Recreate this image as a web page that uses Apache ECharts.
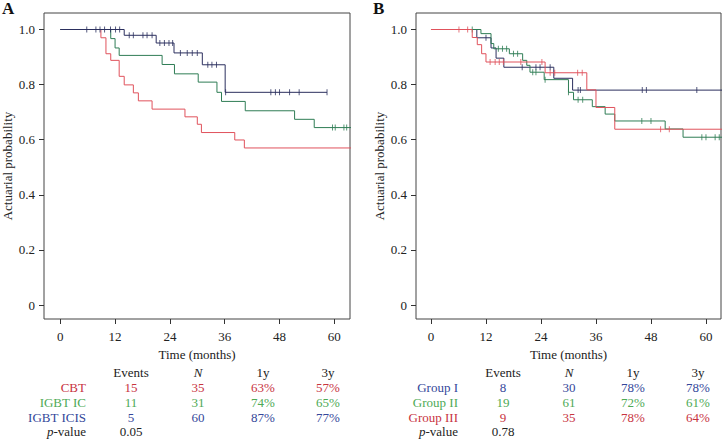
<!DOCTYPE html>
<html>
<head>
<meta charset="utf-8">
<script src="https://cdn.jsdelivr.net/npm/echarts@6/dist/echarts.min.js"></script>
<style>html,body{margin:0;padding:0;background:#fff}#c{width:722px;height:439px}</style>
</head>
<body>
<div id="c"></div>
<script>
// ---------- data ----------
const xTicks = [0, 12, 24, 36, 48, 60];
const yTicks = [0, 0.2, 0.4, 0.6, 0.8, 1.0];

// Panel A
const cbtTimes = [0, 8.9, 10.0, 11.05, 12.9, 14.0, 16.0, 17.1, 20.1, 27.3, 30.0, 30.9, 38.2, 40.3];
const cbtSurv  = [1, 0.970, 0.912, 0.888, 0.830, 0.799, 0.770, 0.741, 0.711, 0.683, 0.656, 0.626, 0.599, 0.570];
const cbtCens  = [];
const cbtEnd   = 65;

const icTimes = [0, 11.05, 12.0, 12.9, 22.3, 25.0, 30.2, 34.3, 35.3, 40.5, 51.3, 55.6];
const icSurv  = [1, 0.967, 0.933, 0.906, 0.873, 0.839, 0.809, 0.772, 0.739, 0.705, 0.674, 0.644];
const icCens  = [59.6, 60.2, 62.1, 62.7];
const icEnd   = 65;

const icisTimes = [0, 14.0, 21.0, 24.9, 31.1, 36.1];
const icisSurv  = [1, 0.979, 0.951, 0.915, 0.872, 0.772];
const icisCens  = [5.8, 7.8, 8.7, 9.7, 11.0, 12.1, 13.0, 15.1, 16.0, 18.1, 19.0, 20.1, 21.8, 22.8, 23.8, 24.6,
                   26.3, 27.8, 28.9, 30.0, 32.3, 33.2, 34.2, 36.2, 46.1, 47.1, 48.0, 50.2, 52.3, 58.4];
const icisEnd   = 58.4;

// Panel B
const g1Times = [0, 10.0, 13.1, 14.2, 15.9, 26.8, 30.9];
const g1Surv  = [1, 0.970, 0.933, 0.896, 0.863, 0.823, 0.780];
const g1Cens  = [12.0, 19.9, 22.9, 23.8, 26.0, 32.1, 32.6, 46.1, 47.0, 58.0];
const g1End   = 65;

const g2Times = [0, 10.9, 13.1, 13.7, 17.1, 20.0, 20.9, 21.6, 24.7, 30.0, 31.1, 35.2, 38.0, 40.1, 51.1, 55.0];
const g2Surv  = [1, 0.985, 0.949, 0.930, 0.912, 0.888, 0.870, 0.845, 0.818, 0.772, 0.745, 0.720, 0.693, 0.668, 0.639, 0.609];
const g2Cens  = [9.0, 14.7, 15.6, 16.5, 18.0, 18.9, 22.2, 22.9, 24.9, 30.0, 32.1, 33.1, 46.0, 48.0, 59.1, 60.0, 62.0, 62.9];
const g2End   = 65;

const g3Times = [0, 9.0, 10.1, 11.05, 12.0, 24.9, 34.0, 36.0, 40.1];
const g3Surv  = [1, 0.971, 0.945, 0.912, 0.882, 0.843, 0.781, 0.717, 0.638];
const g3Cens  = [6.1, 8.0, 12.9, 14.0, 14.9, 15.8, 19.6, 24.2, 26.0, 27.0, 32.0, 33.0, 50.1, 52.0];
const g3End   = 65;

// Tables
const tableHeader = ['Events', 'N', '1y', '3y'];
const tableALabels = ['CBT', 'IGBT IC', 'IGBT ICIS'];
const tableAEvents = ['15', '11', '5'];
const tableAN      = ['35', '31', '60'];
const tableA1y     = ['63%', '74%', '87%'];
const tableA3y     = ['57%', '65%', '77%'];
const tableAP      = '0.05';

const tableBLabels = ['Group I', 'Group II', 'Group III'];
const tableBEvents = ['8', '19', '9'];
const tableBN      = ['30', '61', '35'];
const tableB1y     = ['78%', '72%', '78%'];
const tableB3y     = ['78%', '61%', '64%'];
const tableBP      = '0.78';

// ---------- styling ----------
const RED = '#e0525c', GREEN = '#2f7d55', NAVY = '#2b2f5e';
const T_RED = '#c8343f', T_GREEN = '#4eaa55', T_BLUE = '#34479a';
const FONT = '"Liberation Serif", "DejaVu Serif", serif';
const TXT = '#222';

function survAt(times, surv, t) {
  let v = surv[0];
  for (let i = 0; i < times.length; i++) if (times[i] <= t) v = surv[i];
  return v;
}
function curve(times, surv, endT, cens, color, gi, z) {
  const pts = times.map((t, i) => [t, surv[i]]);
  pts.push([endT, surv[surv.length - 1]]);
  return [
    { type: 'line', step: 'end', xAxisIndex: gi, yAxisIndex: gi, data: pts, symbol: 'none',
      lineStyle: { color: color, width: 1 }, clip: true, z: z, animation: false, silent: true },
    { type: 'scatter', xAxisIndex: gi, yAxisIndex: gi, data: cens.map(t => [t, survAt(times, surv, t)]),
      symbol: 'rect', symbolSize: [1, 6], itemStyle: { color: color }, z: z, animation: false, silent: true }
  ];
}

function xAx(gi, min, max) {
  return {
    type: 'value', gridIndex: gi, min: min, max: max, position: 'bottom',
    axisLine: { show: false, onZero: false }, splitLine: { show: false },
    axisTick: { show: true, inside: false, length: 5, lineStyle: { color: '#333' }, customValues: xTicks },
    axisLabel: { show: true, margin: 11, color: TXT, fontFamily: FONT, fontSize: 13, customValues: xTicks,
                 formatter: v => String(v) },
    name: 'Time (months)', nameLocation: 'middle', nameGap: 26,
    nameTextStyle: { color: TXT, fontFamily: FONT, fontSize: 13 }
  };
}
function yAx(gi) {
  return {
    type: 'value', gridIndex: gi, min: -0.0508, max: 1.0599, position: 'left',
    axisLine: { show: false, onZero: false }, splitLine: { show: false },
    axisTick: { show: true, inside: false, length: 5, lineStyle: { color: '#333' }, customValues: yTicks },
    axisLabel: { show: true, margin: 9, color: TXT, fontFamily: FONT, fontSize: 13, customValues: yTicks,
                 formatter: v => (Math.abs(v) < 1e-9 ? '0' : v.toFixed(1)) },
    name: 'Actuarial probability', nameLocation: 'middle', nameGap: 30,
    nameTextStyle: { color: TXT, fontFamily: FONT, fontSize: 13 }
  };
}

// table builder
function table(labels, events, ns, y1, y3, pval, colors, cols, rowsY) {
  const els = [];
  const t = (text, x, y, align, fill, extra) => els.push({
    type: 'text', x: x, y: y, silent: true,
    style: Object.assign({ text: text, align: align, verticalAlign: 'middle', fill: fill,
      font: '13px ' + FONT }, extra || {})
  });
  t(tableHeader[0], cols[1], rowsY[0], 'center', TXT);
  t(tableHeader[1], cols[2], rowsY[0], 'center', TXT, { font: 'italic 13px ' + FONT });
  t(tableHeader[2], cols[3], rowsY[0], 'center', TXT);
  t(tableHeader[3], cols[4], rowsY[0], 'center', TXT);
  for (let i = 0; i < labels.length; i++) {
    const y = rowsY[i + 1], c = colors[i];
    t(labels[i], cols[0], y, 'right', c);
    t(events[i], cols[1], y, 'center', c);
    t(ns[i], cols[2], y, 'center', c);
    t(y1[i], cols[3], y, 'center', c);
    t(y3[i], cols[4], y, 'center', c);
  }
  t('{i|p}-value', cols[0], rowsY[4], 'right', TXT,
    { rich: { i: { fontStyle: 'italic', fontFamily: FONT, fontSize: 13, fill: TXT } } });
  t(pval, cols[1], rowsY[4], 'center', TXT);
  return els;
}
const rowsY = [372, 387, 402, 417, 431];

const chart = echarts.init(document.getElementById('c'), null, { renderer: 'svg', width: 722, height: 439 });
chart.setOption({
  animation: false,
  backgroundColor: '#fff',
  grid: [
    { left: 43, top: 13, width: 307, height: 306, show: true, borderColor: '#444', borderWidth: 1, backgroundColor: 'transparent' },
    { left: 416, top: 13, width: 305, height: 306, show: true, borderColor: '#444', borderWidth: 1, backgroundColor: 'transparent' }
  ],
  xAxis: [xAx(0, -3.56, 63.43), xAx(1, -3.27, 63.28)],
  yAxis: [yAx(0), yAx(1)],
  series: [
    ...curve(cbtTimes, cbtSurv, cbtEnd, cbtCens, RED, 0, 2),
    ...curve(icTimes, icSurv, icEnd, icCens, GREEN, 0, 3),
    ...curve(icisTimes, icisSurv, icisEnd, icisCens, NAVY, 0, 4),
    ...curve(g1Times, g1Surv, g1End, g1Cens, NAVY, 1, 2),
    ...curve(g2Times, g2Surv, g2End, g2Cens, GREEN, 1, 3),
    ...curve(g3Times, g3Surv, g3End, g3Cens, RED, 1, 4)
  ],
  graphic: [
    { type: 'text', x: 2, y: 0, silent: true, style: { text: 'A', fill: '#111', font: 'bold 17px "Liberation Serif", serif' } },
    { type: 'text', x: 373, y: 0, silent: true, style: { text: 'B', fill: '#111', font: 'bold 17px "Liberation Serif", serif' } },
    ...table(tableALabels, tableAEvents, tableAN, tableA1y, tableA3y, tableAP,
             [T_RED, T_GREEN, T_BLUE], [86, 131, 198, 263, 328], rowsY),
    ...table(tableBLabels, tableBEvents, tableBN, tableB1y, tableB3y, tableBP,
             [T_BLUE, T_GREEN, T_RED], [458, 503, 569, 633, 698], rowsY)
  ]
});
</script>
</body>
</html>
